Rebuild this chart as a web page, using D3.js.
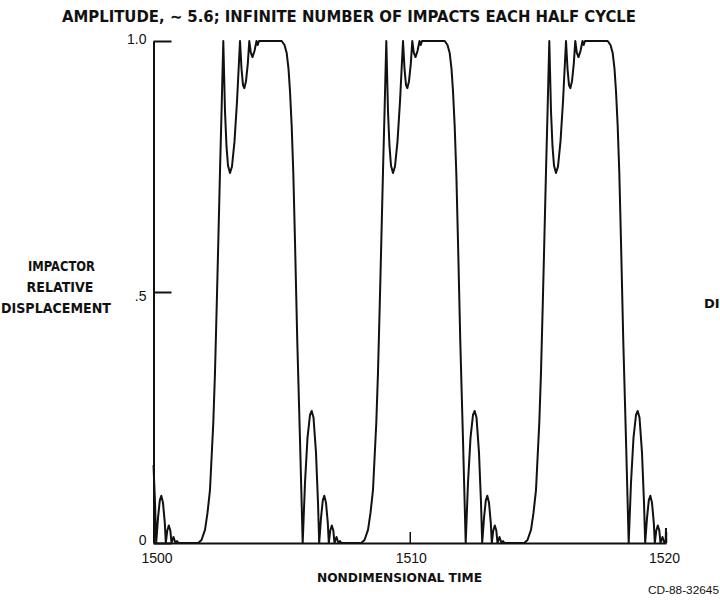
<!DOCTYPE html>
<html>
<head>
<meta charset="utf-8">
<script src="https://cdn.jsdelivr.net/npm/d3@7"></script>
<style>
  html, body { margin: 0; padding: 0; background: #fff; }
  svg { display: block; }
</style>
</head>
<body>
<svg id="chart" width="720" height="600"></svg>
<script>
// ---------------- data ----------------
const titleText = "AMPLITUDE, \u223C 5.6; INFINITE NUMBER OF IMPACTS EACH HALF CYCLE";
const yAxisLabel = ["IMPACTOR", "RELATIVE", "DISPLACEMENT"];
const xAxisLabel = "NONDIMENSIONAL TIME";
const figureId = "CD-88-32645";
const xTicks = [1500, 1510, 1520];
const yTicks = [0, 0.5, 1.0];
const yTickLabels = ["0", ".5", "1.0"];

// tail of the previous cycle (bounces settling on the lower stop)
const cycle0 = [
  [1500.000, 0.155], [1500.059, 0.08], [1500.105, 0],
  [1500.176, 0.05], [1500.246, 0.085], [1500.304, 0.094], [1500.371, 0.08], [1500.441, 0.04], [1500.480, 0],
  [1500.538, 0.025], [1500.597, 0.035], [1500.656, 0.025], [1500.702, 0],
  [1500.780, 0.012], [1500.858, 0],
  [1500.917, 0.004], [1500.976, 0]
];
const cycle1 = [
  [1501.748, 0], [1501.873, 0.006], [1502.010, 0.026], [1502.107, 0.06], [1502.205, 0.106],
  [1502.334, 0.24], [1502.400, 0.34], [1502.466, 0.47], [1502.529, 0.60], [1502.595, 0.74],
  [1502.661, 0.87], [1502.724, 1.0],
  [1502.790, 0.86], [1502.849, 0.79], [1502.907, 0.752], [1502.985, 0.737], [1503.063, 0.75],
  [1503.161, 0.80], [1503.259, 0.88], [1503.376, 1.0],
  [1503.434, 0.945], [1503.493, 0.912], [1503.543, 0.906], [1503.610, 0.92], [1503.680, 0.955], [1503.738, 1.0],
  [1503.797, 0.977], [1503.863, 0.968], [1503.941, 0.98], [1504.020, 1.0],
  [1504.066, 0.992], [1504.117, 1.0],
  [1505.003, 1.0], [1505.112, 0.992], [1505.198, 0.976], [1505.268, 0.945], [1505.327, 0.90],
  [1505.393, 0.83], [1505.456, 0.737], [1505.522, 0.60], [1505.612, 0.40], [1505.717, 0.205], [1505.822, 0],
  [1505.912, 0.12], [1506.010, 0.21], [1506.107, 0.255], [1506.173, 0.263], [1506.244, 0.25],
  [1506.341, 0.18], [1506.420, 0.08], [1506.466, 0],
  [1506.537, 0.05], [1506.607, 0.085], [1506.665, 0.094], [1506.732, 0.08], [1506.802, 0.04], [1506.841, 0],
  [1506.899, 0.025], [1506.958, 0.035], [1507.017, 0.025], [1507.063, 0],
  [1507.141, 0.012], [1507.219, 0],
  [1507.278, 0.004], [1507.337, 0]
];
const cycle2 = [
  [1508.109, 0], [1508.234, 0.006], [1508.371, 0.026], [1508.468, 0.06], [1508.566, 0.106],
  [1508.695, 0.24], [1508.761, 0.34], [1508.827, 0.47], [1508.890, 0.60], [1508.956, 0.74],
  [1509.022, 0.87], [1509.085, 1.0],
  [1509.151, 0.86], [1509.210, 0.79], [1509.268, 0.752], [1509.346, 0.737], [1509.424, 0.75],
  [1509.522, 0.80], [1509.620, 0.88], [1509.737, 1.0],
  [1509.795, 0.945], [1509.854, 0.912], [1509.904, 0.906], [1509.971, 0.92], [1510.041, 0.955], [1510.099, 1.0],
  [1510.158, 0.977], [1510.224, 0.968], [1510.302, 0.98], [1510.381, 1.0],
  [1510.427, 0.992], [1510.478, 1.0],
  [1511.364, 1.0], [1511.473, 0.992], [1511.559, 0.976], [1511.629, 0.945], [1511.688, 0.90],
  [1511.754, 0.83], [1511.817, 0.737], [1511.883, 0.60], [1511.973, 0.40], [1512.078, 0.205], [1512.183, 0],
  [1512.273, 0.12], [1512.371, 0.21], [1512.468, 0.255], [1512.534, 0.263], [1512.605, 0.25],
  [1512.702, 0.18], [1512.781, 0.08], [1512.827, 0],
  [1512.898, 0.05], [1512.968, 0.085], [1513.026, 0.094], [1513.093, 0.08], [1513.163, 0.04], [1513.202, 0],
  [1513.260, 0.025], [1513.319, 0.035], [1513.378, 0.025], [1513.424, 0],
  [1513.502, 0.012], [1513.580, 0],
  [1513.639, 0.004], [1513.698, 0]
];
const cycle3 = [
  [1514.470, 0], [1514.595, 0.006], [1514.732, 0.026], [1514.829, 0.06], [1514.927, 0.106],
  [1515.056, 0.24], [1515.122, 0.34], [1515.188, 0.47], [1515.251, 0.60], [1515.317, 0.74],
  [1515.383, 0.87], [1515.446, 1.0],
  [1515.512, 0.86], [1515.571, 0.79], [1515.629, 0.752], [1515.707, 0.737], [1515.785, 0.75],
  [1515.883, 0.80], [1515.981, 0.88], [1516.098, 1.0],
  [1516.156, 0.945], [1516.215, 0.912], [1516.265, 0.906], [1516.332, 0.92], [1516.402, 0.955], [1516.460, 1.0],
  [1516.519, 0.977], [1516.585, 0.968], [1516.663, 0.98], [1516.742, 1.0],
  [1516.788, 0.992], [1516.839, 1.0],
  [1517.725, 1.0], [1517.834, 0.992], [1517.920, 0.976], [1517.990, 0.945], [1518.049, 0.90],
  [1518.115, 0.83], [1518.178, 0.737], [1518.244, 0.60], [1518.334, 0.40], [1518.439, 0.205], [1518.544, 0],
  [1518.634, 0.12], [1518.732, 0.21], [1518.829, 0.255], [1518.895, 0.263], [1518.966, 0.25],
  [1519.063, 0.18], [1519.142, 0.08], [1519.188, 0],
  [1519.259, 0.05], [1519.329, 0.085], [1519.387, 0.094], [1519.454, 0.08], [1519.524, 0.04], [1519.563, 0],
  [1519.621, 0.025], [1519.680, 0.035], [1519.739, 0.025], [1519.785, 0],
  [1519.863, 0.012], [1519.941, 0],
  [1519.985, 0], [1520.000, 0.03]
];

// ---------------- drawing ----------------
const svg = d3.select("#chart");
const ink = "#111";

const x = d3.scaleLinear().domain([1500, 1520]).range([153.5, 666]);
const y = d3.scaleLinear().domain([0, 1]).range([543, 41]);

const series = [].concat(cycle0, cycle1, cycle2, cycle3);

// title
svg.append("text")
  .attr("x", 62).attr("y", 22)
  .attr("textLength", 574).attr("lengthAdjust", "spacingAndGlyphs")
  .style("font-family", "'Liberation Sans Narrow', 'DejaVu Sans Condensed', 'Liberation Sans', sans-serif")
  .style("font-weight", "bold").style("font-size", "16px").style("fill", ink)
  .text(titleText);

// y axis
const yAxis = d3.axisLeft(y)
  .tickValues(yTicks)
  .tickFormat((d, i) => yTickLabels[i])
  .tickSizeInner(-18).tickSizeOuter(0).tickPadding(7);
const gy = svg.append("g").attr("transform", `translate(${x(1500)},0)`).call(yAxis);
gy.select(".domain").attr("stroke", ink).attr("stroke-width", 2);
gy.selectAll(".tick line").attr("stroke", ink).attr("stroke-width", 2);
gy.selectAll(".tick text")
  .style("font-family", "'Liberation Sans', Arial, sans-serif")
  .style("font-size", "14px").style("fill", ink)
  .attr("dy", (d) => d === 0.5 ? "0.62em" : (d === 1 ? "0.2em" : "0.12em"));

// x axis
const xAxis = d3.axisBottom(x)
  .tickValues(xTicks)
  .tickFormat(d3.format("d"))
  .tickSizeInner(-11).tickSizeOuter(0).tickPadding(10);
const gx = svg.append("g").attr("transform", `translate(0,${y(0)})`).call(xAxis);
gx.select(".domain").attr("stroke", ink).attr("stroke-width", 2);
gx.selectAll(".tick line").attr("stroke", ink).attr("stroke-width", 1.5);
gx.selectAll(".tick text")
  .style("font-family", "'Liberation Sans', Arial, sans-serif")
  .style("font-size", "14px").style("fill", ink)
  .attr("dx", (d) => d === 1500 ? 3 : (d === 1520 ? -2 : 1));

// curve
const line = d3.line().x(d => x(d[0])).y(d => y(d[1])).curve(d3.curveLinear);
svg.append("path")
  .datum(series)
  .attr("d", line)
  .attr("fill", "none").attr("stroke", ink)
  .attr("stroke-width", 2).attr("stroke-linejoin", "round");

// y axis title (three lines)
const plotterFont = "'DejaVu Sans', 'Liberation Sans', sans-serif";
const yLab = [
  { t: yAxisLabel[0], cx: 61.5, by: 271, w: 67 },
  { t: yAxisLabel[1], cx: 60, by: 292, w: 67 },
  { t: yAxisLabel[2], cx: 56, by: 313, w: 110 }
];
svg.selectAll("text.ylab").data(yLab).enter().append("text")
  .attr("class", "ylab")
  .attr("x", d => d.cx - d.w / 2).attr("y", d => d.by)
  .attr("textLength", d => d.w).attr("lengthAdjust", "spacingAndGlyphs")
  .style("font-family", plotterFont).style("font-size", "14px")
  .style("font-weight", "bold").style("fill", ink)
  .text(d => d.t);

// x axis title
svg.append("text")
  .attr("x", 317).attr("y", 582)
  .attr("textLength", 165).attr("lengthAdjust", "spacingAndGlyphs")
  .style("font-family", plotterFont).style("font-size", "13px")
  .style("font-weight", "bold").style("fill", ink)
  .text(xAxisLabel);

// truncated right-hand label
svg.append("text")
  .attr("x", 704).attr("y", 308)
  .style("font-family", plotterFont).style("font-size", "13px")
  .style("font-weight", "bold").style("fill", ink)
  .text("DI");

// figure id
svg.append("text")
  .attr("x", 648).attr("y", 594)
  .attr("textLength", 71).attr("lengthAdjust", "spacingAndGlyphs")
  .style("font-family", "'Liberation Sans', Arial, sans-serif")
  .style("font-size", "10px").style("fill", ink)
  .text(figureId);
</script>
</body>
</html>
